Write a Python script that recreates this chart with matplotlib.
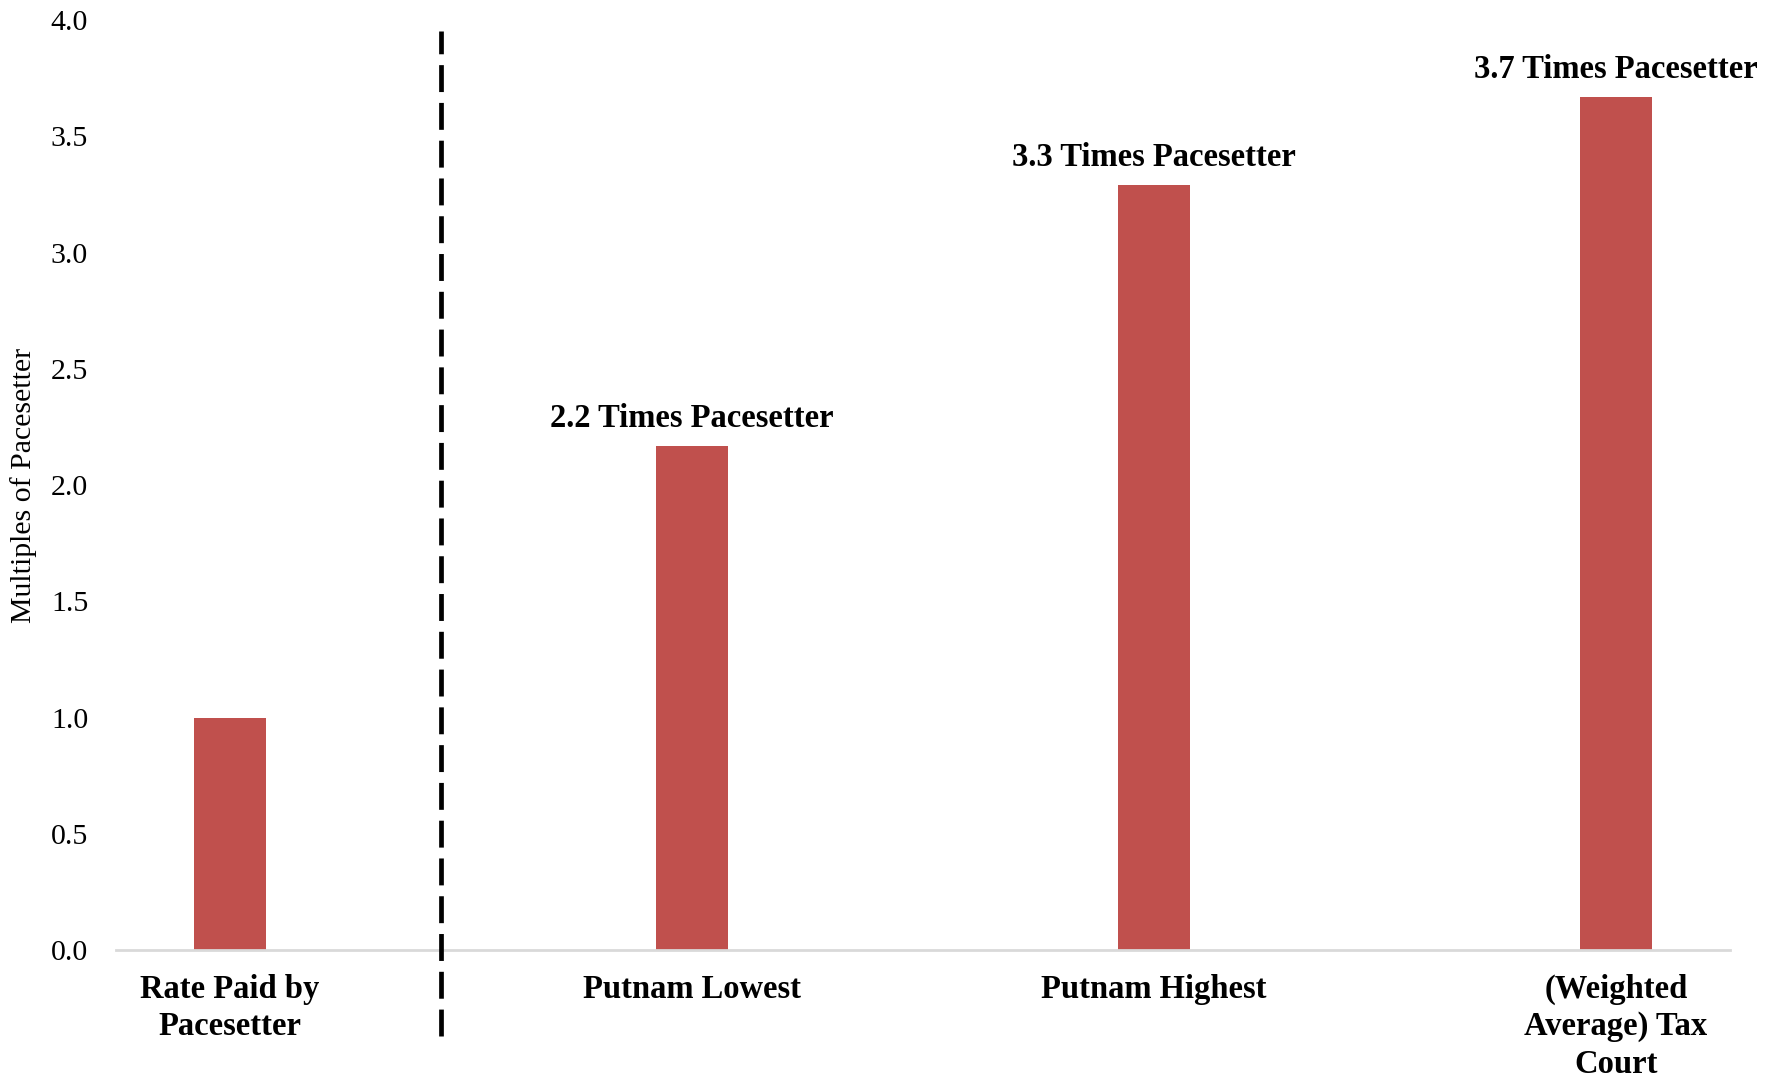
import matplotlib.pyplot as plt
import numpy as np

# multiples of the pacesetter's rate
categories = ["Rate Paid by\nPacesetter", "Putnam Lowest", "Putnam Highest",
              "(Weighted\nAverage) Tax\nCourt"]
multiples = [1.0, 2.17, 3.29, 3.67]
labelled = [False, True, True, True]
yticks = [0.0, 0.5, 1.0, 1.5, 2.0, 2.5, 3.0, 3.5, 4.0]

plt.rcParams["font.family"] = ["Liberation Serif", "DejaVu Serif"]

fig = plt.figure(figsize=(17.73, 10.78), dpi=100)
ax = fig.add_axes([0.0654, 0.1187, 0.9103, 0.8627])

x = np.arange(len(categories))
ax.bar(x, multiples, width=0.156, color="#C0504D", zorder=2)

for xi, v, show in zip(x, multiples, labelled):
    if show:
        ax.text(xi, v + 0.05, f"{v:.1f} Times Pacesetter", ha="center",
                va="bottom", fontsize=23.5, fontweight="bold")

# divider between the pacesetter and the comparison rates
ax.plot([0.458, 0.458], [-0.37, 3.955], color="black", lw=3.4,
        dashes=(5.7, 2.3), clip_on=False, zorder=3)

ax.set_xlim(-0.246, 3.247)
ax.set_ylim(0, 4.0)
ax.set_xticks(x)
ax.set_xticklabels(categories, fontsize=23.5, fontweight="bold", linespacing=1.26)
ax.set_yticks(yticks)
ax.set_yticklabels([f"{t:.1f}" for t in yticks], fontsize=21.5)
ax.tick_params(axis="both", length=0)
ax.tick_params(axis="x", pad=17)
ax.tick_params(axis="y", pad=20)
ax.set_ylabel("Multiples of Pacesetter", fontsize=21.5, labelpad=10)

for side in ["left", "right", "top"]:
    ax.spines[side].set_visible(False)
ax.spines["bottom"].set_color("#D9D9D9")
ax.spines["bottom"].set_linewidth(2)

fig.savefig("out.png", dpi=100)
